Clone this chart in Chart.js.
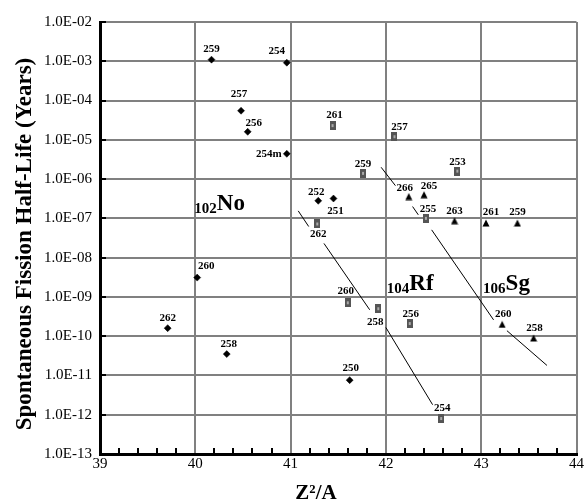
<!DOCTYPE html>
<html>
<head>
<meta charset="utf-8">
<script src="https://cdn.jsdelivr.net/npm/chart.js@4"></script>
<style>
  html, body { margin: 0; padding: 0; background: #fff; }
</style>
</head>
<body>
<canvas id="chartSf" width="585" height="503"></canvas>
<script>
// x = Z^2/A, y = spontaneous fission half-life (years)
const noMass = ['259', '254', '257', '256', '254m', '252', '251', '260', '262', '258', '250'];
const noX = [40.17, 40.96, 40.48, 40.55, 40.96, 41.29, 41.45, 40.02, 39.71, 40.33, 41.62];
const noY = [1.1e-3, 9.2e-4, 5.5e-5, 1.6e-5, 4.4e-6, 2.8e-7, 3.2e-7, 3.1e-9, 1.6e-10, 3.5e-11, 7.6e-12];

const rfMass = ['261', '257', '259', '253', '255', '262', '260', '258', '256', '254'];
const rfX = [41.44, 42.09, 41.76, 42.75, 42.42, 41.28, 41.60, 41.92, 42.25, 42.58];
const rfY = [2.3e-5, 1.2e-5, 1.4e-6, 1.6e-6, 1.0e-7, 7.2e-8, 7.1e-10, 5.0e-10, 2.1e-10, 8.0e-13];

const sgMass = ['266', '265', '263', '261', '259', '260', '258'];
const sgX = [42.24, 42.40, 42.72, 43.05, 43.38, 43.22, 43.55];
const sgY = [3.6e-7, 4.0e-7, 8.7e-8, 7.6e-8, 7.6e-8, 2.0e-10, 9.0e-11];

// hand drawn trend lines (null = gap left for a label)
const rfLineX = [41.08, 41.19, null, 41.35, 41.83, null, 42.00, 42.49];
const rfLineY = [1.55e-7, 6.2e-8, null, 2.3e-8, 4.7e-10, null, 1.66e-10, 1.8e-12];
const sgLineX = [41.95, 42.10, null, 42.28, 42.34, null, 42.48, 43.13, null, 43.27, 43.69];
const sgLineY = [2.0e-6, 6.8e-7, null, 2.0e-7, 1.23e-7, null, 5.1e-8, 2.6e-10, null, 1.38e-10, 1.8e-11];

// element names, anchored in data coordinates
const elemZ = ['102', '104', '106'];
const elemName = ['No', 'Rf', 'Sg'];
const elemX = [39.99, 42.01, 43.02];
const elemY = [1.6e-7, 1.5e-9, 1.5e-9];

const xTicks = [39, 40, 41, 42, 43, 44];
const yTicks = [1e-2, 1e-3, 1e-4, 1e-5, 1e-6, 1e-7, 1e-8, 1e-9, 1e-10, 1e-11, 1e-12, 1e-13];
const yTickLabels = ['1.0E-02', '1.0E-03', '1.0E-04', '1.0E-05', '1.0E-06', '1.0E-07',
  '1.0E-08', '1.0E-09', '1.0E-10', '1.0E-11', '1.0E-12', '1.0E-13'];

// label offsets from each marker, in pixels
const noLabelOff = [[0, -10], [-10, -12], [-2, -17], [6, -9], [-18, 0], [-2, -9], [2, 13], [9, -11], [0, -10], [2, -10], [1, -12]];
const rfLabelOff = [[2, -10], [5, -10], [0, -9], [0, -9], [2, -9], [1, 10], [-2, -12], [-3, 13], [1, -9], [1, -10]];
const sgLabelOff = [[-4, -8], [5, -9], [0, -10], [5, -11], [0, -11], [1, -10], [1, -10]];

const pts = (xs, ys) => xs.map((x, i) => ({ x: x, y: ys[i] }));

function rfMarker() {
  const c = document.createElement('canvas');
  c.width = 6; c.height = 9;
  const g = c.getContext('2d');
  g.fillStyle = '#555555';
  g.fillRect(0, 0, 6, 9);
  g.fillStyle = '#aaaaaa';
  g.fillRect(2, 3, 2, 3);
  return c;
}

function sgMarker() {
  const c = document.createElement('canvas');
  c.width = 8; c.height = 8;
  const g = c.getContext('2d');
  g.fillStyle = '#000';
  g.beginPath();
  g.moveTo(4, 0.5);
  g.lineTo(7.5, 7.5);
  g.lineTo(0.5, 7.5);
  g.closePath();
  g.fill();
  return c;
}

const serif = '"Liberation Serif", "Times New Roman", serif';

const extras = {
  id: 'extras',
  afterDatasetsDraw(chart) {
    const ctx = chart.ctx;
    const xs = chart.scales.x, ys = chart.scales.y;
    const area = chart.chartArea;
    ctx.save();

    // black tick marks pointing into the plot
    ctx.strokeStyle = '#000';
    ctx.lineWidth = 2;
    yTicks.forEach(v => {
      const py = Math.round(ys.getPixelForValue(v));
      ctx.beginPath();
      ctx.moveTo(area.left, py);
      ctx.lineTo(area.left + 6, py);
      ctx.stroke();
    });
    for (let k = 1; k < 25; k++) {
      if (k % 5 === 0) continue;
      const px = Math.round(xs.getPixelForValue(39 + k * 0.2));
      ctx.beginPath();
      ctx.moveTo(px, area.bottom);
      ctx.lineTo(px, area.bottom - 6);
      ctx.stroke();
    }

    // mass number labels
    ctx.fillStyle = '#000';
    ctx.font = 'bold 11px ' + serif;
    ctx.textAlign = 'center';
    ctx.textBaseline = 'middle';
    [[0, noMass, noLabelOff], [1, rfMass, rfLabelOff], [2, sgMass, sgLabelOff]].forEach(([di, names, off]) => {
      const meta = chart.getDatasetMeta(di);
      meta.data.forEach((el, j) => {
        ctx.fillText(names[j], el.x + off[j][0], el.y + off[j][1]);
      });
    });

    // element names with subscript Z
    ctx.textAlign = 'left';
    ctx.textBaseline = 'alphabetic';
    elemName.forEach((name, i) => {
      const px = xs.getPixelForValue(elemX[i]);
      const py = ys.getPixelForValue(elemY[i]);
      ctx.font = 'bold 15px ' + serif;
      ctx.fillText(elemZ[i], px, py + 3);
      const w = ctx.measureText(elemZ[i]).width;
      ctx.font = 'bold 23px ' + serif;
      ctx.fillText(name, px + w, py);
    });

    // axis titles
    ctx.textAlign = 'center';
    ctx.textBaseline = 'middle';
    ctx.font = 'bold 21px ' + serif;
    ctx.fillText('Z²/A', 316, 494);
    ctx.translate(25, 244);
    ctx.rotate(-Math.PI / 2);
    ctx.font = 'bold 23px ' + serif;
    ctx.fillText('Spontaneous Fission Half-Life (Years)', 0, 0);
    ctx.restore();
  }
};

const ctx = document.getElementById('chartSf').getContext('2d');
const sfChart = new Chart(ctx, {
  type: 'scatter',
  data: {
    datasets: [
      {
        label: 'No',
        data: pts(noX, noY),
        pointStyle: 'rectRot',
        pointRadius: 3.5,
        backgroundColor: '#000',
        borderColor: '#000',
        borderWidth: 0.5
      },
      {
        label: 'Rf',
        data: pts(rfX, rfY),
        pointStyle: rfMarker(),
        pointRadius: 4,
        borderWidth: 0
      },
      {
        label: 'Sg',
        data: pts(sgX, sgY),
        pointStyle: sgMarker(),
        pointRadius: 4,
        borderWidth: 0
      },
      {
        label: 'Rf trend',
        data: pts(rfLineX, rfLineY),
        showLine: true,
        spanGaps: false,
        pointRadius: 0,
        borderColor: '#000',
        borderWidth: 1
      },
      {
        label: 'Sg trend',
        data: pts(sgLineX, sgLineY),
        showLine: true,
        spanGaps: false,
        pointRadius: 0,
        borderColor: '#000',
        borderWidth: 1
      }
    ]
  },
  options: {
    responsive: false,
    animation: false,
    events: [],
    layout: { padding: { top: 22, right: 7, left: 0, bottom: 0 } },
    plugins: {
      legend: { display: false },
      tooltip: { enabled: false }
    },
    scales: {
      x: {
        type: 'linear',
        min: 39,
        max: 44,
        afterBuildTicks: (scale) => { scale.ticks = xTicks.map(v => ({ value: v })); },
        afterFit: (scale) => { scale.height = 49; },
        grid: { color: '#808080', lineWidth: 2, drawTicks: false },
        border: { display: true, color: '#000', width: 3 },
        ticks: { color: '#000', padding: 1, font: { family: serif, size: 15 } }
      },
      y: {
        type: 'logarithmic',
        min: 1e-13,
        max: 1e-2,
        afterBuildTicks: (scale) => { scale.ticks = yTicks.map(v => ({ value: v })); },
        afterFit: (scale) => { scale.width = 100; },
        grid: { color: '#808080', lineWidth: 2, drawTicks: false },
        border: { display: true, color: '#000', width: 3 },
        ticks: {
          color: '#000',
          padding: 8,
          font: { family: serif, size: 15 },
          callback: (v) => {
            const i = yTicks.findIndex(t => Math.abs(Math.log10(t) - Math.log10(v)) < 1e-6);
            return i >= 0 ? yTickLabels[i] : '';
          }
        }
      }
    }
  },
  plugins: [extras]
});
</script>
</body>
</html>
